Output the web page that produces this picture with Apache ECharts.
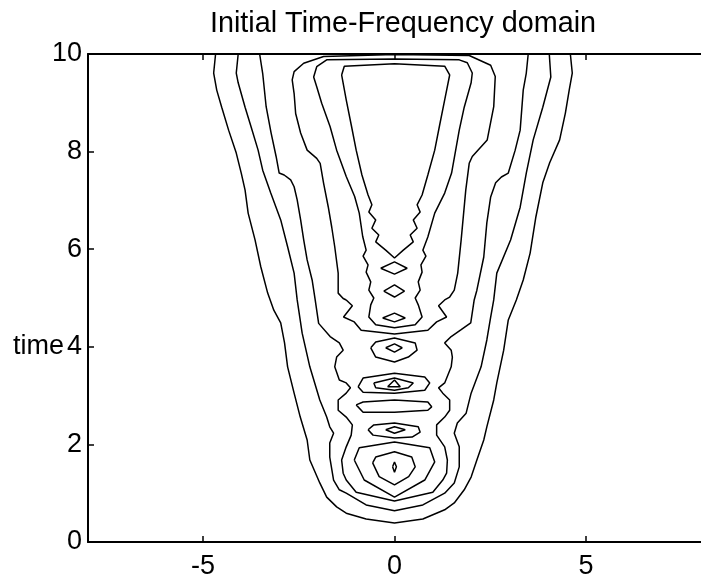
<!DOCTYPE html>
<html><head><meta charset="utf-8">
<script src="https://cdn.jsdelivr.net/npm/echarts@6/dist/echarts.min.js"></script>
<style>html,body{margin:0;padding:0;background:#fff}#c{width:701px;height:580px}</style>
</head><body><div id="c"></div>
<script>
const chartTitle = 'Initial Time-Frequency domain';
const yName = 'time';
const xTicks = [-5, 0, 5];
const yTicks = [0, 2, 4, 6, 8, 10];

const L1 = [[-4.67,10],[-4.72,9.61],[-4.64,9.26],[-4.51,8.91],[-4.33,8.44],[-4.13,7.97],[-4.0,7.56],[-3.90,7.21],[-3.82,6.74],[-3.64,6.19],[-3.49,5.64],[-3.31,5.10],[-3.15,4.75],[-2.97,4.49],[-2.87,4.08],[-2.79,3.59],[-2.62,3.05],[-2.46,2.56],[-2.28,2.09],[-2.21,1.68],[-1.95,1.21],[-1.77,0.92],[-1.51,0.72],[-1.26,0.59],[-0.74,0.47],[0,0.39],[0.74,0.47],[1.31,0.66],[1.56,0.80],[1.82,1.07],[2.0,1.33],[2.15,1.68],[2.33,2.09],[2.41,2.36],[2.59,2.91],[2.67,3.26],[2.85,3.93],[2.97,4.55],[3.18,4.96],[3.36,5.37],[3.54,5.92],[3.69,6.66],[3.87,7.36],[4.05,7.77],[4.31,8.24],[4.46,8.79],[4.56,9.26],[4.64,9.61],[4.59,10]];
const L2 = [[-4.08,10],[-4.13,9.61],[-4.08,9.41],[-3.90,8.91],[-3.74,8.50],[-3.56,8.03],[-3.44,7.62],[-3.23,7.15],[-2.97,6.60],[-2.79,6.05],[-2.62,5.51],[-2.54,4.96],[-2.41,4.28],[-2.21,3.59],[-1.95,2.91],[-1.77,2.56],[-1.69,2.36],[-1.59,2.23],[-1.69,2.03],[-1.69,1.74],[-1.59,1.27],[-1.44,1.07],[-1.26,1.00],[-0.74,0.76],[0,0.64],[0.74,0.76],[1.31,1.00],[1.56,1.21],[1.69,1.54],[1.69,1.95],[1.56,2.23],[1.64,2.44],[1.87,2.64],[2.0,3.05],[2.26,3.59],[2.41,4.14],[2.51,4.61],[2.59,4.96],[2.67,5.51],[3.03,6.19],[3.28,6.86],[3.44,7.56],[3.62,8.24],[3.87,8.91],[4.08,9.53],[4.04,10]];
const L3 = [[-3.52,10],[-3.44,9.60],[-3.35,8.92],[-3.22,8.38],[-3.09,7.90],[-3.01,7.56],[-2.88,7.52],[-2.71,7.42],[-2.62,7.28],[-2.54,7.01],[-2.45,6.60],[-2.37,6.19],[-2.28,5.78],[-2.15,5.37],[-2.07,4.96],[-1.98,4.48],[-1.68,4.21],[-1.44,4.08],[-1.34,3.93],[-1.51,3.79],[-1.56,3.59],[-1.44,3.32],[-1.26,3.26],[-1.15,3.16],[-1.26,3.05],[-1.47,2.91],[-1.47,2.70],[-1.26,2.56],[-1.10,2.40],[-1.13,2.19],[-1.26,1.95],[-1.38,1.68],[-1.34,1.41],[-1.26,1.27],[-1.0,1.02],[0,0.84],[1.0,1.02],[1.26,1.27],[1.36,1.41],[1.38,1.68],[1.31,1.95],[1.10,2.19],[1.10,2.40],[1.31,2.56],[1.44,2.70],[1.44,2.91],[1.26,3.05],[1.15,3.16],[1.31,3.26],[1.48,3.59],[1.51,3.79],[1.48,3.93],[1.31,4.08],[1.48,4.21],[1.74,4.35],[1.99,4.49],[2.08,4.96],[2.15,5.16],[2.33,5.84],[2.41,6.54],[2.51,7.07],[2.64,7.36],[2.79,7.48],[2.97,7.56],[3.15,8.03],[3.28,8.44],[3.36,9.26],[3.44,9.61],[3.49,10]];
const L4 = [[-1.26,4.96],[-1.34,4.99],[-1.47,5.10],[-1.47,5.51],[-1.56,6.05],[-1.64,6.46],[-1.73,6.87],[-1.85,7.35],[-1.94,7.76],[-2.03,7.86],[-2.28,8.03],[-2.45,8.38],[-2.58,8.78],[-2.62,9.19],[-2.67,9.47],[-2.62,9.64],[-2.37,9.81],[-1.85,9.95],[0,9.99],[1.95,9.97],[2.51,9.77],[2.63,9.54],[2.59,8.92],[2.42,8.24],[2.03,7.90],[1.95,7.76],[1.86,7.21],[1.74,6.19],[1.65,5.51],[1.56,5.16],[1.44,5.02],[1.31,4.96],[1.15,4.84],[1.36,4.61],[1.10,4.51],[0.87,4.34],[0,4.26],[-0.87,4.34],[-1.05,4.51],[-1.33,4.61],[-1.10,4.84],[-1.26,4.96]];
const L5 = [[0,9.90],[-1.77,9.88],[-2.03,9.74],[-2.11,9.53],[-2.03,9.33],[-1.90,8.99],[-1.68,8.51],[-1.51,8.03],[-1.26,7.49],[-1.04,7.08],[-0.92,6.74],[-0.83,6.26],[-0.74,5.98],[-0.82,5.86],[-0.69,5.68],[-0.74,5.53],[-0.62,5.33],[-0.67,5.16],[-0.54,5.0],[-0.62,4.86],[-0.67,4.61],[-0.49,4.45],[0,4.39],[0.54,4.45],[0.72,4.61],[0.62,4.86],[0.54,5.0],[0.67,5.16],[0.62,5.33],[0.72,5.53],[0.69,5.68],[0.82,5.86],[0.74,5.98],[0.87,6.25],[1.05,6.74],[1.31,7.15],[1.49,7.56],[1.69,8.44],[1.82,8.91],[2.0,9.41],[2.03,9.61],[1.90,9.82],[1.69,9.88],[0,9.90]];
const L6 = [[-1.38,9.57],[-1.26,9.06],[-1.13,8.55],[-1.0,8.03],[-0.85,7.52],[-0.69,7.11],[-0.59,6.91],[-0.67,6.76],[-0.49,6.60],[-0.59,6.43],[-0.41,6.29],[-0.49,6.15],[-0.23,5.98],[0,5.82],[0.23,5.98],[0.49,6.15],[0.41,6.29],[0.59,6.43],[0.49,6.60],[0.67,6.76],[0.59,6.91],[0.72,7.11],[0.87,7.52],[1.05,8.03],[1.18,8.55],[1.31,9.06],[1.44,9.57],[1.31,9.75],[0,9.80],[-1.31,9.75],[-1.38,9.57]];
const I1 = [[-0.36,5.61],[0,5.74],[0.33,5.61],[0,5.49],[-0.36,5.61]];
const I2 = [[-0.28,5.14],[0,5.27],[0.26,5.14],[0,5.02],[-0.28,5.14]];
const I3 = [[-0.31,4.59],[0,4.69],[0.28,4.59],[0,4.51],[-0.31,4.59]];
const I4 = [[-0.23,3.98],[0,4.06],[0.2,3.98],[0,3.89],[-0.23,3.98]];
const I4b = [[-0.62,3.98],[-0.49,4.10],[0,4.18],[0.54,4.08],[0.59,3.93],[0.36,3.79],[0,3.69],[-0.49,3.79],[-0.62,3.98]];
const I5 = [[-0.18,3.18],[0,3.32],[0.15,3.18],[-0.18,3.18]];
const I5b = [[-0.54,3.26],[0,3.36],[0.49,3.26],[0.36,3.16],[0,3.11],[-0.49,3.16],[-0.54,3.26]];
const I5c = [[-0.95,3.18],[-0.82,3.36],[0,3.46],[0.79,3.38],[0.92,3.26],[0.79,3.11],[0,3.05],[-0.82,3.07],[-0.95,3.18]];
const I6 = [[-1.0,2.81],[-0.82,2.87],[0,2.91],[0.87,2.87],[0.97,2.77],[0.87,2.70],[0,2.66],[-0.82,2.66],[-1.0,2.81]];
const I7 = [[-0.69,2.30],[-0.54,2.40],[0,2.44],[0.62,2.36],[0.67,2.25],[0.46,2.15],[0,2.13],[-0.56,2.19],[-0.69,2.30]];
const I7b = [[-0.23,2.30],[0,2.36],[0.28,2.30],[0,2.23],[-0.23,2.30]];
const B1 = [[-0.05,1.54],[0,1.64],[0.05,1.54],[0,1.43],[-0.05,1.54]];
const B2 = [[-0.57,1.62],[-0.49,1.74],[0,1.85],[0.45,1.74],[0.54,1.54],[0.37,1.34],[0,1.17],[-0.40,1.34],[-0.57,1.62]];
const B3 = [[-1.05,1.68],[-0.92,1.93],[0,2.05],[0.92,1.93],[1.05,1.64],[0.79,1.27],[0,0.92],[-0.79,1.27],[-1.05,1.68]];

const contours = [L1, L2, L3, L4, L5, L6, I1, I2, I3, I4, I4b, I5, I5b, I5c, I6, I7, I7b, B1, B2, B3];

const chart = echarts.init(document.getElementById('c'), null, {renderer: 'canvas'});
const FONT = '"Liberation Sans", Arial, Helvetica, sans-serif';
const axisLineStyle = {color: '#000', width: 2};
chart.setOption({
  animation: false,
  backgroundColor: '#fff',
  grid: {left: 88, right: -10, top: 54, bottom: 38, containLabel: false},
  xAxis: [
    {type: 'value', min: -8, max: 8, position: 'bottom',
     axisLine: {onZero: false, lineStyle: axisLineStyle},
     axisTick: {inside: true, length: 6, customValues: xTicks, lineStyle: {color: '#000', width: 1.5}},
     axisLabel: {customValues: xTicks, color: '#000', fontSize: 27, fontFamily: FONT, margin: 11},
     splitLine: {show: false}},
    {type: 'value', min: -8, max: 8, position: 'top',
     axisLine: {onZero: false, lineStyle: axisLineStyle},
     axisTick: {inside: true, length: 6, customValues: xTicks, lineStyle: {color: '#000', width: 1.5}},
     axisLabel: {show: false}, splitLine: {show: false}}
  ],
  yAxis: [
    {type: 'value', min: 0, max: 10, interval: 2, position: 'left',
     axisLine: {onZero: false, lineStyle: axisLineStyle},
     axisTick: {inside: true, length: 6, lineStyle: {color: '#000', width: 1.5}},
     axisLabel: {color: '#000', fontSize: 27, fontFamily: FONT, margin: 6},
     splitLine: {show: false}}
  ],
  graphic: [
    {type: 'text', style: {text: chartTitle, x: 403, y: 24, textAlign: 'center', textVerticalAlign: 'middle', font: '28.8px ' + FONT, fill: '#000'}},
    {type: 'text', style: {text: yName, x: 64, y: 347, textAlign: 'right', textVerticalAlign: 'middle', font: '27px ' + FONT, fill: '#000'}}
  ],
  series: contours.map(c => ({
    type: 'line', data: c, showSymbol: false, symbol: 'none', smooth: false,
    lineStyle: {color: '#000', width: 1.5}, clip: true, silent: true
  }))
});
</script></body></html>
